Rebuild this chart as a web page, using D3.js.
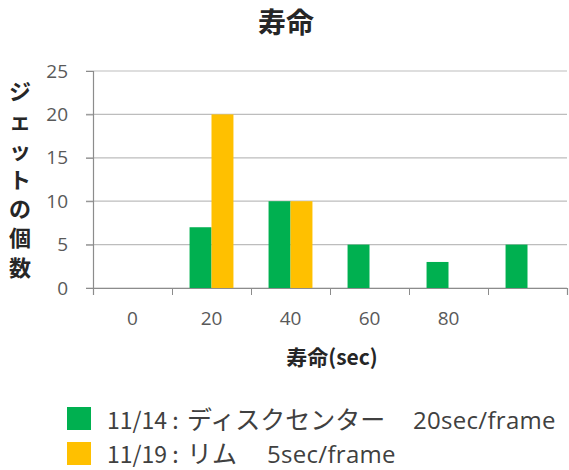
<!DOCTYPE html>
<html><head><meta charset="utf-8">
<script src="https://cdn.jsdelivr.net/npm/d3@7"></script>
<style>body{margin:0;background:#fff}</style>
</head><body>
<svg id="c" width="569" height="470"></svg>
<script>
const categories = ["0","20","40","60","80",""];
const seriesDates = ["11/14 :", "11/19 :"];
const seriesNames = ["ディスクセンター", "リム"];
const seriesNotes = ["20sec/frame", "5sec/frame"];
const seriesColors = ["#00b050", "#ffc000"];
const greenValues = [0, 7, 10, 5, 3, 5];
const yellowValues = [0, 20, 10, 0, 0, 0];
const yTicks = [0, 5, 10, 15, 20, 25];
const titleText = "寿命";
const xTitle = "寿命(sec)";
const yTitle = "ジェットの個数";

const svg = d3.select("#c");
const L = 93, R = 567, T = 71, B = 288;
const jp = "'Noto Sans CJK JP', sans-serif";
const lat = "'Open Sans', 'Noto Sans', sans-serif";

const x0 = d3.scaleBand().domain(d3.range(categories.length)).range([L, R]).padding(0);
const x1 = d3.scaleBand().domain([0, 1]).range([0, x0.bandwidth()]).paddingInner(0).paddingOuter(0.8);
const y = d3.scaleLinear().domain([0, 25]).range([B, T]);
const xb = d3.scaleLinear().domain([0, categories.length]).range([L, R]);

// gridlines
svg.append("g").selectAll("line").data(yTicks).join("line")
  .attr("x1", L - 7).attr("x2", R).attr("y1", d => y(d)).attr("y2", d => y(d))
  .attr("stroke", "#bdbdbd").attr("stroke-width", 1.2);

// y axis
const ya = svg.append("g").attr("transform", `translate(${L},0)`)
  .call(d3.axisLeft(y).tickValues(yTicks).tickSize(7).tickPadding(18));
ya.select(".domain").attr("stroke", "#8c8c8c").attr("stroke-width", 1.2);
ya.selectAll(".tick line").attr("stroke", "#8c8c8c");
ya.selectAll("text").attr("fill", "#595959").style("font-family", lat).style("font-size", "19px");

// bars
const seriesVals = [greenValues, yellowValues];
seriesVals.forEach((vals, s) => {
  svg.append("g").selectAll("rect").data(vals.map((v, i) => ({v, i}))).join("rect")
    .filter(d => d.v > 0)
    .attr("x", d => x0(d.i) + x1(s))
    .attr("width", x1.bandwidth())
    .attr("y", d => y(d.v))
    .attr("height", d => y(0) - y(d.v))
    .attr("fill", seriesColors[s]);
});

// x axis boundary ticks
const xa = svg.append("g").attr("transform", `translate(0,${B})`)
  .call(d3.axisBottom(xb).tickValues(d3.range(categories.length + 1)).tickSize(7).tickFormat(""));
xa.select(".domain").attr("stroke", "#8c8c8c").attr("stroke-width", 1.2);
xa.selectAll(".tick line").attr("stroke", "#8c8c8c");

// x labels
const xl = svg.append("g").attr("transform", `translate(0,${B})`)
  .call(d3.axisBottom(x0).tickSize(0).tickPadding(24).tickFormat(i => categories[i]));
xl.select(".domain").remove();
xl.selectAll("text").attr("fill", "#595959").style("font-family", lat).style("font-size", "19px");

// titles
svg.append("text").attr("x", 286).attr("y", 33).attr("text-anchor", "middle")
  .style("font-family", jp).style("font-weight", "bold").style("font-size", "28px").attr("fill", "#262626")
  .text(titleText);
svg.append("text").attr("x", 332).attr("y", 365).attr("text-anchor", "middle")
  .style("font-family", jp).style("font-weight", "bold").style("font-size", "21px").attr("fill", "#262626")
  .text(xTitle);
svg.append("g").selectAll("text").data(Array.from(yTitle)).join("text")
  .attr("x", 20).attr("y", (d, i) => 92 + i * 29.3).attr("dy", "0.36em").attr("text-anchor", "middle")
  .style("font-family", jp).style("font-weight", "bold").style("font-size", "22px").attr("fill", "#262626")
  .text(d => d);

// legend
const notesX = [413, 267];
seriesNames.forEach((n, s) => {
  const yy = 407 + s * 35;
  const base = 429 + s * 34;
  svg.append("rect").attr("x", 67).attr("y", yy).attr("width", 24).attr("height", 23).attr("fill", seriesColors[s]);
  svg.append("text").attr("x", 107).attr("y", base)
    .style("font-family", jp).style("font-size", "23px").attr("fill", "#404040").text(seriesDates[s]);
  svg.append("text").attr("x", 187).attr("y", base)
    .style("font-family", jp).style("font-size", "25px").attr("fill", "#404040").text(n);
  svg.append("text").attr("x", notesX[s]).attr("y", base)
    .style("font-family", lat).style("font-size", "24px").style("letter-spacing", "0.3px").attr("fill", "#404040").text(seriesNotes[s]);
});
</script>
</body></html>
